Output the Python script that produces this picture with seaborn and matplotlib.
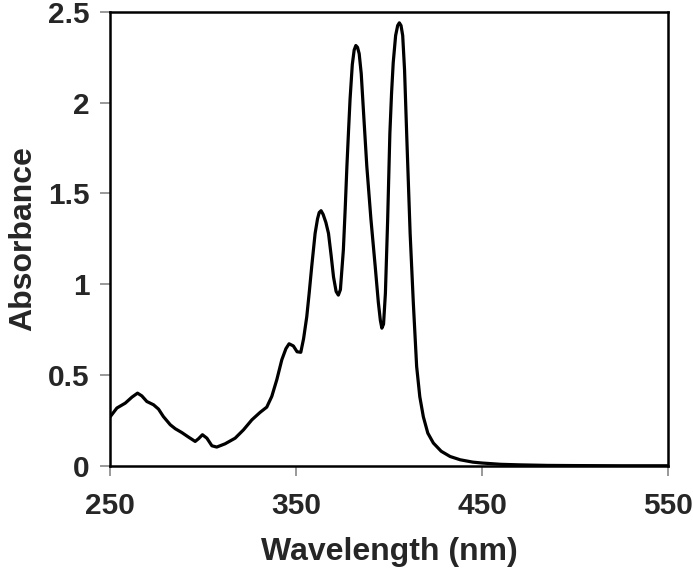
import matplotlib
matplotlib.use("Agg")
import matplotlib.pyplot as plt
import seaborn as sns
import pandas as pd

wavelength = [250, 253.6, 258.1, 261.7, 264.7, 267.0, 269.7, 273.3, 276.0, 278.6, 282.3, 285, 288.5,
              292.1, 295.7, 297.5, 299.6, 302, 304.7, 307.3, 311.8, 317.2, 321.7, 326.2, 330.6,
              334.2, 336.9, 339.6, 342.3, 344.5, 346.2, 348.5,
              350.5, 352.5, 354, 355.7, 357, 358.4, 360.2, 361.5, 362.4, 363.4, 364.5, 366, 367.4, 368.8,
              370.1, 371.5, 372.7, 373.8, 375.4, 376.4, 377.3, 378.2, 379.0, 380.2, 381.2, 382.1, 383.0,
              383.9, 385, 386.4, 388.0, 390.2, 392.5, 394.2, 395.3, 396.1, 397, 398, 399.2, 400.4,
              401.3, 402.2, 403.5, 404.6, 405.5, 406.4, 407.3, 408.3, 409.6, 411.3, 413, 414.8, 416.5,
              418.4, 420.8, 423.8, 428, 432.8, 438.2, 445, 450, 460, 470, 485, 500, 525, 550]
absorbance = [0.27, 0.318, 0.345, 0.378, 0.40, 0.385, 0.354, 0.336, 0.312, 0.271, 0.226, 0.204, 0.183,
              0.158, 0.134, 0.149, 0.171, 0.152, 0.110, 0.103, 0.121, 0.152, 0.198, 0.253, 0.294,
              0.323, 0.382, 0.474, 0.584, 0.645, 0.672, 0.66,
              0.628, 0.625, 0.70, 0.82, 0.95, 1.10, 1.28, 1.36, 1.395, 1.405, 1.385, 1.34, 1.28, 1.16,
              1.04, 0.96, 0.94, 0.97, 1.19, 1.42, 1.65, 1.85, 2.02, 2.21, 2.29, 2.315, 2.305,
              2.27, 2.16, 1.92, 1.65, 1.36, 1.10, 0.90, 0.80, 0.758, 0.78, 0.95, 1.35, 1.83,
              2.05, 2.22, 2.37, 2.425, 2.44, 2.425, 2.37, 2.18, 1.78, 1.28, 0.90, 0.547, 0.38,
              0.27, 0.18, 0.125, 0.08, 0.051, 0.033, 0.02, 0.015, 0.008, 0.005, 0.002, 0.001, 0.0, 0.0]

df = pd.DataFrame({"Wavelength": wavelength, "Absorbance": absorbance})

sns.set_theme(style="ticks")
plt.rcParams['font.family'] = ['Liberation Sans', 'DejaVu Sans']
plt.rcParams['font.weight'] = 'bold'

fig = plt.figure(figsize=(6.93, 5.68), dpi=100)
ax = fig.add_axes([0.159, 0.180, 0.805, 0.799])
sns.lineplot(data=df, x="Wavelength", y="Absorbance", ax=ax, color="black", linewidth=2.3)

ax.set_xlim(250, 550)
ax.set_ylim(0, 2.5)
ax.set_xticks([250, 350, 450, 550])
ax.set_xticklabels(["250", "350", "450", "550"])
ax.set_yticks([0, 0.5, 1, 1.5, 2, 2.5])
ax.set_yticklabels(["0", "0.5", "1", "1.5", "2", "2.5"])
for s in ax.spines.values():
    s.set_visible(True)
    s.set_linewidth(1.8)
    s.set_color("black")
ax.tick_params(axis="both", direction="out", length=7, width=1.2, color="#888888",
               labelsize=21.5)
ax.tick_params(axis="x", pad=12)
ax.tick_params(axis="y", pad=8)
for lab in ax.get_xticklabels() + ax.get_yticklabels():
    lab.set_fontweight("bold")
ax.set_xlabel("Wavelength (nm)", fontsize=23, fontweight="bold", labelpad=12)
ax.set_ylabel("Absorbance", fontsize=23, fontweight="bold", labelpad=7)

fig.savefig("out.png", dpi=100)
